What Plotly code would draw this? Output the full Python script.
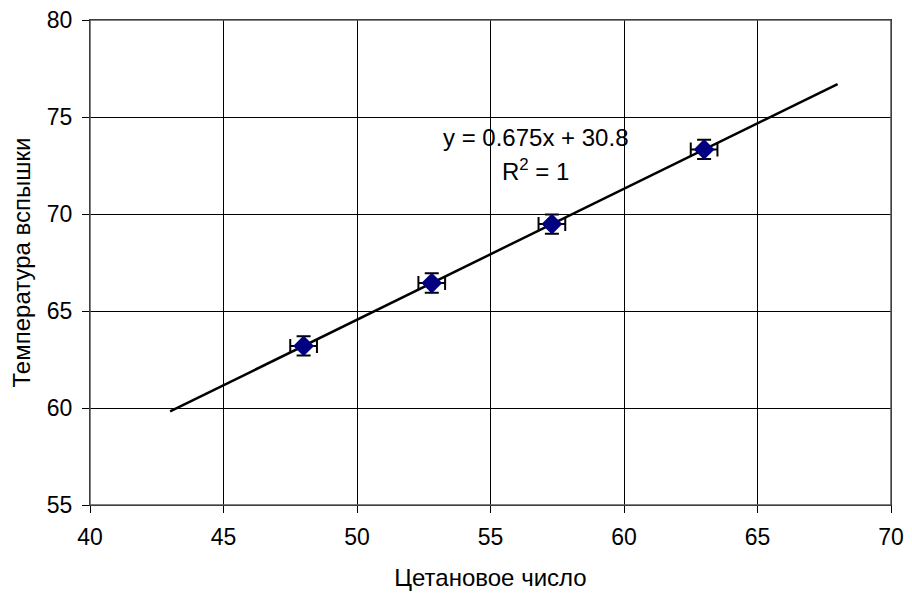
import plotly.graph_objects as go

cetane = [48.0, 52.8, 57.3, 63.0]
flash_temp = [63.2, 66.44, 69.48, 73.33]
x_err = [0.5, 0.5, 0.5, 0.5]
y_err = [0.5, 0.5, 0.5, 0.5]
slope = 0.675
intercept = 30.8
trend_x = [43.0, 68.0]
x_ticks = [40, 45, 50, 55, 60, 65, 70]
y_ticks = [55, 60, 65, 70, 75, 80]

trend_y = [slope * v + intercept for v in trend_x]

FONT = "Liberation Sans, Arial, sans-serif"

fig = go.Figure()
fig.add_trace(go.Scatter(
    x=trend_x, y=trend_y, mode="lines",
    line=dict(color="black", width=2.5), showlegend=False, hoverinfo="skip"))
fig.add_trace(go.Scatter(
    x=cetane, y=flash_temp, mode="markers",
    marker=dict(symbol="diamond", size=16, color="#000080",
                line=dict(color="#000080", width=0)),
    error_x=dict(type="data", array=x_err, color="black", thickness=2, width=7),
    error_y=dict(type="data", array=y_err, color="black", thickness=2, width=7),
    showlegend=False))

fig.add_annotation(x=56.7, y=73.92, xref="x", yref="y",
                   text="y = 0.675x + 30.8", showarrow=False,
                   font=dict(family=FONT, size=24, color="black"))
fig.add_annotation(x=56.7, y=72.27, xref="x", yref="y",
                   text="R<sup>2</sup> = 1", showarrow=False,
                   font=dict(family=FONT, size=24, color="black"))

# plot-area frame
fig.add_shape(type="rect", xref="paper", yref="paper", x0=0, x1=1, y0=0, y1=1,
              line=dict(color="#555555", width=1.5), layer="above")

# the page body has an 8px default margin; margins compensate for that offset
fig.update_layout(
    width=912, height=596,
    margin=dict(l=82, r=29, t=12, b=99),
    paper_bgcolor="white", plot_bgcolor="white",
    font=dict(family=FONT, size=23, color="black"),
)
fig.update_xaxes(
    range=[40, 70], tickvals=x_ticks, showgrid=True, gridcolor="black", gridwidth=1,
    showline=True, linecolor="black", linewidth=1, mirror=True,
    ticks="outside", ticklen=7, tickcolor="black", zeroline=False,
    tickfont=dict(size=23), ticklabelstandoff=4, automargin=False,
    ticklabeloverflow="allow",
    title=dict(text="Цетановое число", font=dict(size=24), standoff=20))
fig.update_yaxes(
    range=[55, 80], tickvals=y_ticks, showgrid=True, gridcolor="black", gridwidth=1,
    showline=True, linecolor="black", linewidth=1, mirror=True,
    ticks="outside", ticklen=7, tickcolor="black", zeroline=False,
    tickfont=dict(size=23), ticklabelstandoff=5, automargin=False,
    ticklabeloverflow="allow",
    title=dict(text="Температура вспышки", font=dict(size=24), standoff=13))

fig.write_html("out.html")
